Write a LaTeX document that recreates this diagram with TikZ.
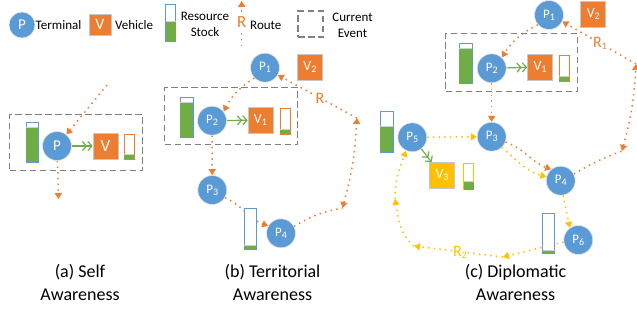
\documentclass[tikz,border=0pt]{standalone}
\usepackage{fontspec}
\setmainfont{Carlito}
\usetikzlibrary{arrows.meta}
\pgfdeclarelayer{background}
\pgfsetlayers{background,main}

\definecolor{termblue}{HTML}{5B9BD5}
\definecolor{vehorange}{HTML}{ED7D31}
\definecolor{vehyellow}{HTML}{FFC000}
\definecolor{stockgreen}{HTML}{70AD47}
\definecolor{eventgray}{HTML}{808080}

\newcommand\pxfont[1]{\fontsize{#1}{#1}\selectfont}
\newcommand\lowidx[1]{\raisebox{-0.14em}{\fontsize{10}{10}\selectfont #1}}

% stock bar: name, left x, top y, width, height, border colour, level height
\newcommand\drawstock[7]{%
  \node[stock, draw=#6, minimum width=#4pt, minimum height=#5pt, anchor=north west] (#1) at (#2,#3) {};
  \fill[stockgreen] ([xshift=0.6pt,yshift=0.6pt]#1.south west) rectangle ([xshift=-0.6pt,yshift=#7pt]#1.south east);
  \draw[black!18, line width=0.9pt] ([xshift=0.6pt,yshift=#7pt+0.45pt]#1.south west) -- ([xshift=-0.6pt,yshift=#7pt+0.45pt]#1.south east);
}

\tikzset{
  terminal/.style={circle, fill=termblue, draw=white!80!gray, line width=0.6pt,
    minimum size=29pt, inner sep=0pt, text=white, font=\pxfont{13}},
  vehicle/.style={rectangle, fill=#1, draw=black!22, line width=0.7pt,
    minimum width=25pt, minimum height=26pt, inner sep=0pt, text=white, font=\pxfont{14}},
  vehicle/.default=vehorange,
  event/.style={draw=eventgray, line width=1.1pt, dash pattern=on 6.5pt off 3.5pt, inner sep=0pt},
  oroute/.style={draw=vehorange, line width=1.5pt, dash pattern=on 1.5pt off 4.2pt},
  yroute/.style={draw=vehyellow, line width=1.5pt, dash pattern=on 1.5pt off 4.2pt},
  routetip/.style={-{Triangle[length=6pt,width=7pt]}},
  bothtips/.style={{Triangle[length=6pt,width=7pt]}-{Triangle[length=6pt,width=7pt]}},
  dispatch/.style={draw=stockgreen, line width=1.2pt,
    -{Straight Barb[length=4pt,width=9pt]Straight Barb[length=4pt,width=9pt]}},
  stock/.style={rectangle, fill=white, line width=1.2pt, inner sep=0pt},
  lbl/.style={inner sep=0pt, font=\pxfont{13}},
  routelbl/.style={inner sep=0.6pt, fill=white, font=\pxfont{16}},
  caption/.style={align=center, inner sep=0pt, font=\fontsize{18}{23}\selectfont},
}

\begin{document}
\begin{tikzpicture}[x=1pt,y=-1pt]
\useasboundingbox (0,0) rectangle (637,322);

% ---------- legend ----------
\node[terminal, minimum size=26pt, font=\pxfont{15}] (lgP) at (22,25) {P};
\node[lbl, anchor=west] (lgPt) at (35.5,25.5) {Terminal};
\node[vehicle, minimum width=22pt, minimum height=21pt, font=\pxfont{16}] (lgV) at (100,24.5) {V};
\node[lbl, anchor=west] (lgVt) at (115,25.5) {Vehicle};
\drawstock{lgS}{165}{3.5}{10}{37}{termblue}{20}
\node[lbl, align=center, font=\fontsize{13}{16}\selectfont] (lgSt) at (205,24.5) {Resource\\Stock};
\coordinate (lgRa) at (241.7,46);
\coordinate (lgRb) at (241.7,0.8);
\draw[oroute, routetip] (lgRa) -- (lgRb);
\node[routelbl, text=vehorange, font=\pxfont{17}] (lgR) at (241.7,22.5) {R};
\node[lbl, anchor=west] (lgRt) at (250,25.5) {Route};
\node[event, minimum width=25pt, minimum height=26pt] (lgE) at (310.5,24) {};
\node[lbl, align=center, font=\fontsize{13}{16}\selectfont] (lgEt) at (352.5,25) {Current\\Event};

% ---------- (a) self awareness ----------
\node[event, minimum width=133pt, minimum height=56pt, anchor=north west] (aE) at (9,114) {};
\drawstock{aS}{25.5}{121.5}{12}{40}{termblue}{35}
\node[terminal, font=\pxfont{15}] (aP) at (57,146) {P};
\node[vehicle, font=\pxfont{17}] (aV) at (105.5,146) {V};
\drawstock{aSv}{123.5}{133.5}{10}{25}{vehorange}{5}
\draw[dispatch] (aP) -- (aV);
\coordinate (aIn) at (107,85);
\coordinate (aOut) at (58.5,199);

% ---------- (b) territorial awareness ----------
\node[event, minimum width=133pt, minimum height=57pt, anchor=north west] (bE) at (164,87) {};
\drawstock{bS}{179.5}{96.5}{13}{40}{termblue}{35}
\node[terminal] (bP2) at (212,120.7) {P\lowidx{2}};
\node[vehicle] (bV1) at (260.5,120) {V\lowidx{1}};
\drawstock{bSv}{279.5}{107.5}{10}{26}{vehorange}{5}
\draw[dispatch] (bP2) -- (bV1);
\node[terminal] (bP1) at (265,67.7) {P\lowidx{1}};
\node[vehicle] (bV2) at (310,67) {V\lowidx{2}};
\node[terminal] (bP3) at (212.3,190) {P\lowidx{3}};
\node[terminal] (bP4) at (281,233.3) {P\lowidx{4}};
\drawstock{bS4}{243.5}{207.5}{12}{41}{termblue}{3.5}
\coordinate (bR1a) at (342.5,208);
\coordinate (bR1b) at (357,118);
\node[routelbl, text=vehorange] (bR) at (320,98) {R};

% ---------- (c) diplomatic awareness ----------
\node[event, minimum width=132pt, minimum height=57.5pt, anchor=north west] (cE) at (445,33) {};
\drawstock{cS}{458.5}{42.5}{13}{40}{termblue}{35}
\node[terminal] (cP2) at (491.7,68.3) {P\lowidx{2}};
\node[vehicle] (cV1) at (540,67) {V\lowidx{1}};
\drawstock{cSv}{558.5}{54.5}{10}{26}{vehorange}{5}
\draw[dispatch] (cP2) -- (cV1);
\node[terminal] (cP1) at (549,15) {P\lowidx{1}};
\node[vehicle] (cV2) at (593.3,14.2) {V\lowidx{2}};
\node[terminal] (cP3) at (491.7,136.7) {P\lowidx{3}};
\node[terminal] (cP5) at (412.3,137.3) {P\lowidx{5}};
\drawstock{cS5}{379.5}{110.5}{13}{41}{termblue}{26}
\node[vehicle=vehyellow] (cV3) at (442,175.5) {V\lowidx{3}};
\drawstock{cSv3}{463}{163}{10}{26}{vehyellow}{8}
\draw[dispatch] (cP5) -- (cV3);
\node[terminal] (cP4) at (560.7,180.7) {P\lowidx{4}};
\node[terminal] (cP6) at (578.3,240) {P\lowidx{6}};
\drawstock{cS6}{542}{212.5}{12}{40.5}{termblue}{3.5}
\coordinate (cR1a) at (622,151);
\coordinate (cR1b) at (636,64);
\node[routelbl, text=vehorange] (cR1) at (600,43) {R\lowidx{1}};
\coordinate (cR2a) at (503,257);
\coordinate (cR2b) at (414,246);
\coordinate (cR2c) at (395,199);
\node[routelbl, text=vehyellow] (cR2) at (460,252) {R\lowidx{2}};

% ---------- routes, kept under the terminals and stocks ----------
\begin{pgfonlayer}{background}
  % (a)
  \draw[oroute, routetip] (aIn) -- (aP);
  \draw[oroute, routetip] (aP) -- (aOut);
  % (b)
  \draw[oroute, routetip] (bP1.224) to[bend right=15] (bP2.38);
  \draw[oroute, routetip] (bP2) -- (bP3);
  \draw[oroute, routetip] (bP3.-31) to[out=-25, in=160] (bP4.150);
  \draw[oroute] (bP4.28) to[bend left=10] (bR1a);
  \draw[oroute, bothtips] (bR1a) to[bend right=6] (bR1b);
  \draw[oroute, routetip] (bR1b) -- (bP1.-30);
  % (c), route R1
  \draw[oroute, routetip] (cP1.221) to[bend right=15] (cP2.47);
  \draw[oroute, routetip] (cP2) -- (cP3);
  \draw[oroute, routetip] (cP3.-21) to[out=-20, in=160] (cP4.130);
  \draw[oroute] (cP4.27) to[bend left=5] (cR1a);
  \draw[oroute, bothtips] (cR1a) to[bend right=6] (cR1b);
  \draw[oroute, routetip] (cR1b) -- (cP1.-26);
  % (c), route R2
  \draw[yroute, routetip] (cP5) -- (cP3);
  \draw[yroute, routetip] (cP3.-47) to[out=-40, in=165] (cP4.165);
  \draw[yroute, routetip] (cP4.-81) -- (cP6.125);
  \draw[yroute, routetip] (cP6.188) -- (cR2a);
  \draw[yroute, routetip] (cR2a) -- (cR2b);
  \draw[yroute, routetip] (cR2b) to[out=140, in=-80] (cR2c);
  \draw[yroute, routetip] (cR2c) to[out=90, in=-110] (cP5.245);
\end{pgfonlayer}

% ---------- captions ----------
\node[caption] (capA) at (80,282) {(a) Self\\Awareness};
\node[caption] (capB) at (272.5,282) {(b) Territorial\\Awareness};
\node[caption] (capC) at (515.5,282) {(c) Diplomatic\\Awareness};
\end{tikzpicture}
\end{document}
